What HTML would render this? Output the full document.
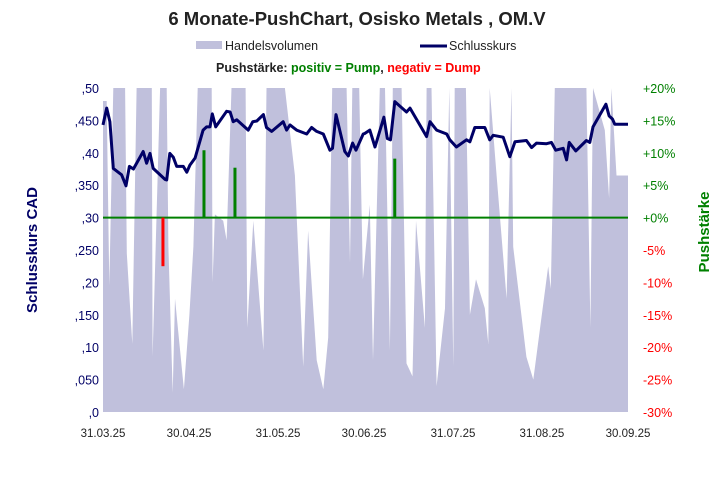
<!DOCTYPE html>
<html><head><meta charset="utf-8"><style>
html,body{margin:0;padding:0;background:#fff;width:726px;height:481px;overflow:hidden}
svg{display:block;font-family:"Liberation Sans",sans-serif}
</style></head><body>
<svg id="chart" width="726" height="481" viewBox="0 0 726 481">
<text x="357" y="25" text-anchor="middle" font-size="18.5" font-weight="bold" fill="#222">6 Monate-PushChart,  Osisko  Metals , OM.V</text>
<g>
<rect x="196" y="41" width="26" height="8" fill="#c0c0dc"/>
<text x="225" y="50" font-size="12.5" fill="#222">Handelsvolumen</text>
<line x1="420" y1="46" x2="447" y2="46" stroke="#000066" stroke-width="3"/>
<text x="449" y="50" font-size="12.5" fill="#222">Schlusskurs</text>
<text x="216" y="72" font-size="12.5" font-weight="bold" fill="#222">Pushstärke: <tspan fill="#008000">positiv = Pump</tspan>, <tspan fill="#ff0000">negativ = Dump</tspan></text>
</g>
<g id="vol"></g>
<g id="push"></g>
<g id="line"></g>
<g id="axes"></g>
<text transform="translate(37,250) rotate(-90)" text-anchor="middle" font-size="15" font-weight="bold" fill="#000066">Schlusskurs CAD</text>
<text transform="translate(709,232) rotate(-90)" text-anchor="middle" font-size="15" font-weight="bold" fill="#008000">Pushstärke</text>
</svg>
<script>
const priceDays=[0,1.3,2.4,3.6,6.5,8.0,9.2,10.6,14.0,15.2,16.4,17.5,21.6,22.2,23.3,24.5,25.7,28.0,29.2,30.3,32.1,34.9,36.1,37.3,38.1,39.3,43.1,44.3,45.4,46.6,50.6,52.2,53.6,55.9,57.0,58.8,62.8,64.0,65.2,67.5,71.0,72.7,74.5,76.8,79.1,80.0,81.2,84.3,85.5,87.0,88.2,90.7,91.3,93.0,94.8,97.9,99.1,100.2,101.7,105.8,107.0,112.8,114.0,116.3,119.8,120.9,123.2,126.7,127.9,129.6,133.1,134.8,136.0,139.5,141.8,143.6,147.6,149.4,151.1,154.6,156.3,157.8,160.4,161.6,162.5,164.8,168.5,169.7,170.8,175.3,176.4,177.6,178.4,183];
const prices=[0.443,0.469,0.448,0.376,0.366,0.349,0.379,0.375,0.402,0.384,0.399,0.376,0.359,0.358,0.399,0.393,0.379,0.379,0.370,0.381,0.392,0.435,0.440,0.440,0.460,0.440,0.464,0.463,0.448,0.451,0.435,0.448,0.449,0.459,0.439,0.433,0.448,0.435,0.443,0.435,0.429,0.439,0.433,0.429,0.404,0.407,0.459,0.402,0.395,0.415,0.404,0.429,0.430,0.435,0.409,0.455,0.422,0.420,0.479,0.463,0.469,0.425,0.448,0.435,0.429,0.420,0.409,0.420,0.417,0.439,0.439,0.420,0.427,0.424,0.394,0.417,0.419,0.408,0.415,0.414,0.416,0.404,0.407,0.389,0.416,0.403,0.419,0.416,0.440,0.475,0.457,0.452,0.444,0.444];
const volDays=[0,1.3,2.2,3.6,7.7,8.3,10.2,11.7,17.0,17.3,19.9,22.2,22.8,24.3,25.1,28.2,30.1,31.5,33.0,37.9,38.2,39.0,41.9,43.1,44.8,49.7,50.3,52.4,55.9,57.0,63.4,66.9,69.8,71.5,74.5,76.8,78.5,79.9,84.9,86.1,86.9,89.3,90.6,93.0,94.1,96.5,98.3,100.0,101.0,104.1,105.8,107.9,109.1,112.2,112.8,114.5,116.3,119.2,120.7,122.1,122.6,126.5,127.9,130.0,133.1,134.3,134.8,137.2,140.7,142.4,143.0,147.6,150.0,155.2,156.1,157.5,168.5,169.9,170.8,174.9,176.4,177.2,179.0,183];
const volumes=[96,96,39,110,110,49,21,110,110,17,110,110,51,6,35,7,30,51,110,110,40,61,59,53,110,110,26,59,19,110,110,73,14,56,16,7,23,110,110,46,110,110,41,64,16,110,110,19,110,110,15,11,59,26,110,110,8,32,110,14,110,110,30,41,32,21,110,73,35,110,51,17,10,45,38,110,110,26,110,87,66,110,73,73];
const pushDays=[20.9,35.2,46.0,101.7];
const pushValues=[-7.5,10.4,7.7,9.1];
const leftTicks=[",0",",050",",10",",150",",20",",250",",30",",350",",40",",450",",50"];
const rightTicks=["-30%","-25%","-20%","-15%","-10%","-5%","+0%","+5%","+10%","+15%","+20%"];
const xTickDays=[0,30,61,91,122,153,183];
const xTickLabels=["31.03.25","30.04.25","31.05.25","30.06.25","31.07.25","31.08.25","30.09.25"];

const X0=103,X1=628,Y0=412,Y1=88,DMAX=183;
const NS="http://www.w3.org/2000/svg";
const xs=d=>X0+(X1-X0)*d/DMAX;
const yP=p=>Y0-(Y0-Y1)*p/0.5;
const yV=v=>Y0-(Y0-Y1)*Math.min(v,100)/100;
const yR=r=>Y0-(Y0-Y1)*(r+30)/50;
function mk(tag,attrs,parent){const e=document.createElementNS(NS,tag);for(const k in attrs)e.setAttribute(k,attrs[k]);parent.appendChild(e);return e;}

const vg=document.getElementById('vol');
let pts=xs(volDays[0])+','+Y0;
volDays.forEach((d,i)=>{pts+=' '+xs(d).toFixed(1)+','+yV(volumes[i]).toFixed(1);});
pts+=' '+xs(volDays[volDays.length-1])+','+Y0;
const area=mk('polygon',{points:pts,fill:'#c0c0dc'},vg);



const pg=document.getElementById('push');
const zl=mk('line',{x1:X0,x2:X1,y1:yR(0),y2:yR(0),stroke:'#008000','stroke-width':2},pg);


pushDays.forEach((d,i)=>{
  const v=pushValues[i];
  const b=mk('line',{x1:xs(d),x2:xs(d),y1:yR(0),y2:yR(v),stroke:v<0?'#ff0000':'#008000','stroke-width':3},pg);
  
  
});

const lg=document.getElementById('line');
const lp=mk('polyline',{points:priceDays.map((d,i)=>xs(d).toFixed(1)+','+yP(prices[i]).toFixed(1)).join(' '),fill:'none',stroke:'#000066','stroke-width':3,'stroke-linejoin':'round'},lg);



const ag=document.getElementById('axes');
leftTicks.forEach((t,i)=>{
  const e=mk('text',{x:99,y:Y0-i*(Y0-Y1)/10+5,'text-anchor':'end','font-size':12.5,fill:'#000066'},ag);
  e.textContent=t;
  
  
});
rightTicks.forEach((t,i)=>{
  const e=mk('text',{x:643,y:Y0-i*(Y0-Y1)/10+5,'font-size':12.5,fill:i<6?'#ff0000':'#008000'},ag);
  e.textContent=t;
  
  
});
xTickDays.forEach((d,i)=>{
  const e=mk('text',{x:xs(d),y:437,'text-anchor':'middle','font-size':11.5,fill:'#222'},ag);
  e.textContent=xTickLabels[i];
  
  
});
</script>
</body></html>
